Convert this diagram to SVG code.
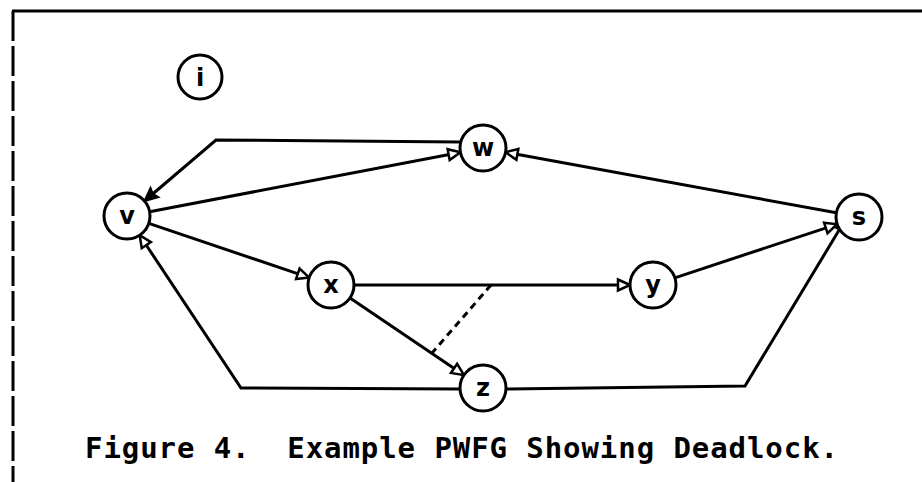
<svg xmlns="http://www.w3.org/2000/svg" width="922" height="482" viewBox="0 0 922 482">
<style>
.node circle{fill:#fff;stroke:#000;stroke-width:3}
.node text{font-family:"DejaVu Sans","Liberation Sans",sans-serif;font-weight:bold;font-size:24px;text-anchor:middle;fill:#000}
.edge{fill:none;stroke:#000;stroke-width:3;stroke-linejoin:miter}
.open{marker-end:url(#openArrow)}
.filled{marker-end:url(#fillArrow)}
.dash{fill:none;stroke:#000;stroke-width:3;stroke-dasharray:7 5}
.caption{font-family:"DejaVu Sans Mono","Liberation Mono",monospace;font-weight:bold;font-size:29px;fill:#000}
</style>
<defs>
<marker id="openArrow" markerUnits="userSpaceOnUse" viewBox="-5 -9 18 18" refX="0" refY="0" markerWidth="18" markerHeight="18" orient="auto">
<path d="M10,0 L-2,-5.5 L-2,5.5 Z" fill="#fff" stroke="#000" stroke-width="2.5"/>
</marker>
<marker id="fillArrow" markerUnits="userSpaceOnUse" viewBox="-5 -9 18 18" refX="0" refY="0" markerWidth="18" markerHeight="18" orient="auto">
<path d="M10,0 L-3,-6 L-1,0 L-3,6 Z" fill="#000" stroke="#000" stroke-width="2"/>
</marker>
</defs>
<rect width="922" height="482" fill="#fff"/>
<g id="frame">
<line x1="12" y1="11" x2="922" y2="11" stroke="#000" stroke-width="3"/>
<line x1="13" y1="11" x2="13" y2="482" stroke="#000" stroke-width="3" stroke-dasharray="30 5"/>
</g>
<g id="connectors">
<polyline class="edge filled" points="461,142 216,140 152.1,194.5"/>
<line class="edge open" x1="149.6" y1="211.7" x2="450.6" y2="154.2"/>
<line class="edge open" x1="836.4" y1="212.8" x2="515.4" y2="154.0"/>
<line class="edge open" x1="148.8" y1="223.4" x2="299.7" y2="274.4"/>
<line class="edge open" x1="354" y1="285" x2="620" y2="285"/>
<line class="edge open" x1="350" y1="297.9" x2="455.7" y2="369.5"/>
<line class="edge open" x1="674.8" y1="277.8" x2="827.7" y2="227.3"/>
<polyline class="edge open" points="506,389 745,386 840.5,227.8"/>
<polyline class="edge open" points="460,389 241,388 145.2,243.5"/>
<line class="dash" x1="491" y1="285" x2="432" y2="353"/>
</g>
<g id="node-i" class="node"><circle cx="200" cy="77" r="22"/><text x="200" y="86">i</text></g>
<g id="node-w" class="node"><circle cx="483" cy="148" r="23"/><text x="483" y="156">w</text></g>
<g id="node-v" class="node"><circle cx="127" cy="216" r="23"/><text x="127" y="224">v</text></g>
<g id="node-s" class="node"><circle cx="859" cy="217" r="23"/><text x="859" y="225">s</text></g>
<g id="node-x" class="node"><circle cx="331" cy="285" r="23"/><text x="331" y="293">x</text></g>
<g id="node-y" class="node"><circle cx="653" cy="285" r="23"/><text x="653" y="293">y</text></g>
<g id="node-z" class="node"><circle cx="483" cy="388" r="23"/><text x="483" y="396">z</text></g>
<text class="caption" x="85" y="458" textLength="753" lengthAdjust="spacing" xml:space="preserve">Figure 4.  Example PWFG Showing Deadlock.</text>
</svg>
